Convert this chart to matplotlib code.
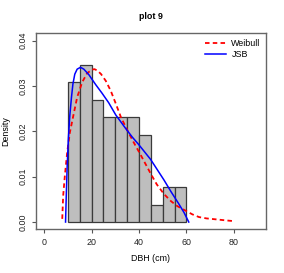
import numpy as np
import matplotlib
matplotlib.use('Agg')
import matplotlib.pyplot as plt

plt.rcParams['font.family'] = ['Liberation Sans', 'DejaVu Sans']

# histogram of DBH: bin edges and counts (n = 52)
bin_edges = [10, 15, 20, 25, 30, 35, 40, 45, 50, 55, 60]
counts = [8, 9, 7, 6, 6, 6, 5, 1, 2, 2]

# fitted densities
weib_x = [7.6, 8.0, 8.7, 9.7, 10.8, 12.5, 13.9, 16.0, 18.1, 20.2, 21.2, 22.4,
          24.0, 26.0, 28.1, 30.2, 32.3, 35.1, 37.5, 40.7, 44.9, 47.5, 50.5, 53.5,
          56.2, 59.7, 62.5, 65.3, 68.5, 72.3, 76.0, 80.0]
weib_y = [0.0007, 0.0058, 0.0102, 0.0154, 0.0197, 0.0240, 0.0275, 0.0308,
          0.0328, 0.0336, 0.0337, 0.0334, 0.0326, 0.0311, 0.0289, 0.0261, 0.0232,
          0.0202, 0.0178, 0.0148, 0.0107, 0.0083, 0.0062, 0.0046, 0.0035, 0.0025,
          0.0017, 0.0011, 0.0008, 0.0006, 0.0004, 0.0002]
jsb_x = [9.0, 9.3, 9.7, 10.2, 10.8, 11.5, 12.1, 12.9, 13.9, 15.3, 16.7, 18.8,
         21.7, 24.4, 27.2, 30.2, 34.4, 37.2, 40.0, 44.9, 50.5, 53.5, 56.8, 59.0, 61.0]
jsb_y = [0.0, 0.0058, 0.0125, 0.0185, 0.0235, 0.0275, 0.0304, 0.0326, 0.0337,
         0.0341, 0.0337, 0.0325, 0.0303, 0.0284, 0.0263, 0.0236, 0.0206, 0.0187,
         0.0170, 0.0138, 0.0093, 0.0067, 0.0040, 0.0021, 0.0]

W, H = 284, 273
fig = plt.figure(figsize=(W / 100, H / 100), dpi=100)
ax = fig.add_axes([35.7 / W, 1 - 229.3 / H, (266 - 35.7) / W, (229.3 - 33.3) / H])

fs = 6.4
n = sum(counts)
width = np.diff(bin_edges)
dens = np.array(counts) / (n * width)
ax.bar(bin_edges[:-1], dens, width=width, align='edge', color='#bebebe',
       edgecolor='#3a3a3a', linewidth=0.9)

ax.plot(weib_x, weib_y, color='red', linestyle=(0, (2.5, 1.8)), linewidth=1.3, label='Weibull')
ax.plot(jsb_x, jsb_y, color='blue', linewidth=1.1, label='JSB')

ax.set_xlim(-3.6, 93.6)
ax.set_ylim(-0.0016, 0.0416)
ax.set_xticks([0, 20, 40, 60, 80])
ax.set_yticks([0.0, 0.01, 0.02, 0.03, 0.04])
ax.set_yticklabels(['0.00', '0.01', '0.02', '0.03', '0.04'], rotation=90, va='center')
ax.tick_params(labelsize=fs, length=3, width=0.8, color='#555555', labelcolor='#222222', pad=3)
for s in ax.spines.values():
    s.set_color('#666666')
    s.set_linewidth(1.0)

ax.set_xlabel('DBH (cm)', fontsize=fs, labelpad=5)
ax.set_ylabel('Density', fontsize=fs, labelpad=6)
ax.set_title('plot 9', fontsize=fs, fontweight='bold', pad=10)

ax.legend(loc='upper right', frameon=False, fontsize=fs, handlelength=2.4,
          handletextpad=0.6, labelspacing=0.3, borderaxespad=0.2)

fig.savefig('out.png', dpi=100)
